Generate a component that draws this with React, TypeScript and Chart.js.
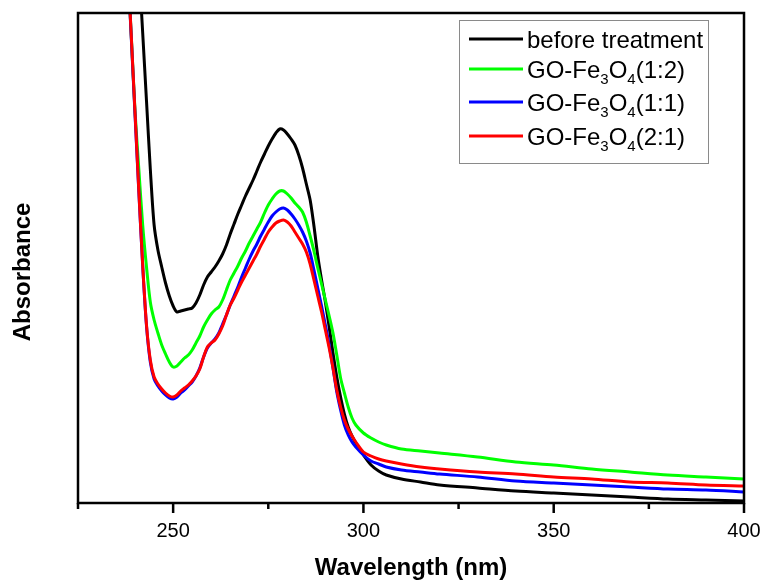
import React, { useEffect, useRef } from 'react';
import { Chart, registerables } from 'chart.js';

Chart.register(...registerables);

// Wavelength grid (nm)
const wavelengths = [
  237, 238, 239, 240, 241, 242, 243, 244, 245, 246, 247, 248, 249,
  250, 251, 252, 253, 254, 255, 256, 257, 258, 259,
  260, 261, 262, 263, 264, 265, 266, 267, 268, 269,
  270, 271, 272, 273, 274, 275, 276, 277, 278, 279,
  280, 281, 282, 283, 284, 285, 286, 287, 288, 289,
  290, 291, 292, 293, 294, 295, 296, 297, 298,
  300, 302, 304, 306, 310, 315, 320, 330, 340, 350, 360, 370, 380, 390, 400,
];

const beforeTreatment = [
  null, null, null, 6.06, 5.38, 4.70, 4.02, 3.34, 2.78, 2.53, 2.36, 2.20, 2.07,
  1.97, 1.91, 1.92, 1.93, 1.94, 1.95, 2.00, 2.08, 2.18, 2.26,
  2.31, 2.36, 2.42, 2.49, 2.58, 2.69, 2.79, 2.89, 2.98, 3.07,
  3.15, 3.23, 3.32, 3.41, 3.49, 3.57, 3.64, 3.70, 3.74, 3.73,
  3.69, 3.64, 3.58, 3.48, 3.35, 3.19, 3.03, 2.77, 2.47, 2.23,
  2.01, 1.76, 1.50, 1.26, 1.06, 0.89, 0.76, 0.67, 0.60,
  0.48, 0.38, 0.32, 0.28, 0.24, 0.21, 0.18, 0.15, 0.12, 0.10, 0.08, 0.06, 0.04, 0.03, 0.02,
];

const goFe12 = [
  6.19, 5.43, 4.67, 3.91, 3.33, 2.78, 2.36, 2.01, 1.83, 1.70, 1.58, 1.49, 1.41,
  1.36, 1.37, 1.41, 1.45, 1.48, 1.53, 1.60, 1.67, 1.76, 1.83,
  1.89, 1.93, 1.96, 2.03, 2.13, 2.23, 2.30, 2.37, 2.45, 2.52,
  2.60, 2.67, 2.74, 2.81, 2.90, 2.98, 3.04, 3.09, 3.12, 3.12,
  3.09, 3.05, 3.00, 2.96, 2.91, 2.81, 2.67, 2.52, 2.35, 2.19,
  2.03, 1.87, 1.70, 1.48, 1.25, 1.10, 0.96, 0.85, 0.78,
  0.70, 0.65, 0.61, 0.58, 0.54, 0.52, 0.50, 0.46, 0.41, 0.38, 0.34, 0.31, 0.28, 0.26, 0.24,
];

const goFe11 = [
  6.21, 5.43, 4.65, 3.87, 3.10, 2.37, 1.77, 1.41, 1.24, 1.17, 1.12, 1.08, 1.05,
  1.04, 1.06, 1.10, 1.13, 1.17, 1.21, 1.27, 1.35, 1.46, 1.55,
  1.60, 1.64, 1.70, 1.79, 1.88, 1.98, 2.07, 2.16, 2.26, 2.35,
  2.44, 2.52, 2.59, 2.67, 2.74, 2.81, 2.87, 2.91, 2.94, 2.95,
  2.93, 2.89, 2.84, 2.78, 2.71, 2.62, 2.50, 2.33, 2.15, 1.97,
  1.78, 1.58, 1.35, 1.11, 0.93, 0.78, 0.68, 0.61, 0.56,
  0.48, 0.42, 0.39, 0.36, 0.33, 0.31, 0.29, 0.26, 0.22, 0.20, 0.18, 0.16, 0.14, 0.13, 0.11,
];

const goFe21 = [
  6.23, 5.45, 4.67, 3.89, 3.11, 2.38, 1.78, 1.43, 1.26, 1.19, 1.14, 1.10, 1.07,
  1.06, 1.08, 1.12, 1.15, 1.18, 1.22, 1.27, 1.34, 1.46, 1.56,
  1.60, 1.63, 1.69, 1.77, 1.88, 1.98, 2.05, 2.13, 2.21, 2.28,
  2.35, 2.42, 2.49, 2.57, 2.64, 2.71, 2.76, 2.80, 2.82, 2.83,
  2.81, 2.77, 2.71, 2.65, 2.59, 2.51, 2.39, 2.23, 2.07, 1.91,
  1.73, 1.55, 1.35, 1.13, 0.96, 0.83, 0.74, 0.67, 0.61,
  0.51, 0.47, 0.44, 0.42, 0.39, 0.36, 0.34, 0.31, 0.29, 0.26, 0.24, 0.21, 0.20, 0.18, 0.17,
];

const seriesLabels = ['before treatment', 'GO-Fe_3O_4(1:2)', 'GO-Fe_3O_4(1:1)', 'GO-Fe_3O_4(2:1)'];
const seriesColors = ['#000000', '#00ff00', '#0000ff', '#ff0000'];
const majorTicks = [250, 300, 350, 400];
const minorTicks = [225, 275, 325, 375];

const FONT = '"Liberation Sans", Arial, Helvetica, sans-serif';

function toPoints(values: (number | null)[]) {
  return wavelengths.map((x, i) => ({ x, y: values[i] }));
}

const framePlugin = {
  id: 'frameTicks',
  afterDatasetsDraw(chart: any) {
    const { ctx, chartArea, scales } = chart;
    const { left, right, top, bottom } = chartArea;
    const x = scales.x;
    ctx.save();
    ctx.strokeStyle = '#000';
    ctx.lineWidth = 2.5;
    ctx.strokeRect(left, top, right - left, bottom - top);
    ctx.lineWidth = 2.5;
    ctx.beginPath();
    majorTicks.forEach((v) => {
      const px = x.getPixelForValue(v);
      ctx.moveTo(px, bottom);
      ctx.lineTo(px, bottom + 10);
    });
    minorTicks.forEach((v) => {
      const px = x.getPixelForValue(v);
      ctx.moveTo(px, bottom);
      ctx.lineTo(px, bottom + 6);
    });
    ctx.stroke();

    // y-axis title
    ctx.translate(23, 272);
    ctx.rotate(-Math.PI / 2);
    ctx.fillStyle = '#000';
    ctx.font = `bold 24px ${FONT}`;
    ctx.textAlign = 'center';
    ctx.textBaseline = 'middle';
    ctx.fillText('Absorbance', 0, 0);
    ctx.restore();
  },
};

function drawRichLabel(ctx: CanvasRenderingContext2D, text: string, x: number, y: number) {
  const parts = text.split(/_(\d)/);
  let cx = x;
  const base = y + 8.5;
  parts.forEach((p, i) => {
    if (!p) return;
    if (i % 2 === 1) {
      ctx.font = `15px ${FONT}`;
      ctx.fillText(p, cx, base + 6);
      cx += ctx.measureText(p).width;
    } else {
      ctx.font = `24px ${FONT}`;
      ctx.fillText(p, cx, base);
      cx += ctx.measureText(p).width;
    }
  });
}

const legendPlugin = {
  id: 'customLegend',
  afterDraw(chart: any) {
    const { ctx } = chart;
    ctx.save();
    ctx.strokeStyle = '#8a8a8a';
    ctx.lineWidth = 1;
    ctx.strokeRect(459.5, 20.5, 249, 143);
    const rows = [39, 69, 102, 136];
    ctx.textBaseline = 'alphabetic';
    ctx.textAlign = 'left';
    seriesLabels.forEach((label, i) => {
      const y = rows[i];
      ctx.strokeStyle = seriesColors[i];
      ctx.lineWidth = 3;
      ctx.beginPath();
      ctx.moveTo(469, y);
      ctx.lineTo(523, y);
      ctx.stroke();
      ctx.fillStyle = '#000';
      drawRichLabel(ctx, label, 527, y);
    });
    ctx.restore();
  },
};

export default function App() {
  const canvasRef = useRef<HTMLCanvasElement | null>(null);

  useEffect(() => {
    if (!canvasRef.current) return;
    const allSeries = [beforeTreatment, goFe12, goFe11, goFe21];
    const orders = [3, 2, 1, 0];
    const chart = new Chart(canvasRef.current, {
      type: 'line',
      data: {
        datasets: allSeries.map((vals, i) => ({
          label: seriesLabels[i],
          data: toPoints(vals),
          borderColor: seriesColors[i],
          backgroundColor: seriesColors[i],
          borderWidth: 3,
          pointRadius: 0,
          tension: 0.3,
          fill: false,
          spanGaps: false,
          order: orders[i],
        })),
      },
      options: {
        animation: false,
        responsive: true,
        maintainAspectRatio: false,
        layout: { padding: { top: 13, right: 19, left: 0, bottom: 0 } },
        plugins: {
          legend: { display: false },
          tooltip: { enabled: false },
        },
        scales: {
          x: {
            type: 'linear',
            min: 225,
            max: 400,
            grid: { display: false, drawTicks: false },
            border: { display: false },
            ticks: {
              stepSize: 25,
              padding: 16,
              color: '#000',
              font: { family: FONT, size: 20 },
              maxRotation: 0,
              autoSkip: false,
              callback: (v: any) => (Number(v) % 50 === 0 ? String(v) : ''),
            },
            title: {
              display: true,
              text: 'Wavelength (nm)',
              color: '#000',
              font: { family: FONT, size: 24, weight: 'bold', lineHeight: 1 },
              padding: { top: 0, bottom: 0 },
            },
            afterFit: (scale: any) => {
              scale.height = 77;
              scale.paddingLeft = 0;
              scale.paddingRight = 0;
            },
          },
          y: {
            type: 'linear',
            min: 0,
            max: 4.9,
            grid: { display: false, drawTicks: false },
            border: { display: false },
            ticks: { display: false },
            afterFit: (scale: any) => {
              scale.width = 78;
              scale.paddingTop = 0;
              scale.paddingBottom = 0;
            },
          },
        },
      },
      plugins: [framePlugin, legendPlugin],
    });
    return () => chart.destroy();
  }, []);

  return (
    <div style={{ position: 'fixed', left: 0, top: 0, width: 763, height: 580, background: '#fff' }}>
      <canvas ref={canvasRef} />
    </div>
  );
}
